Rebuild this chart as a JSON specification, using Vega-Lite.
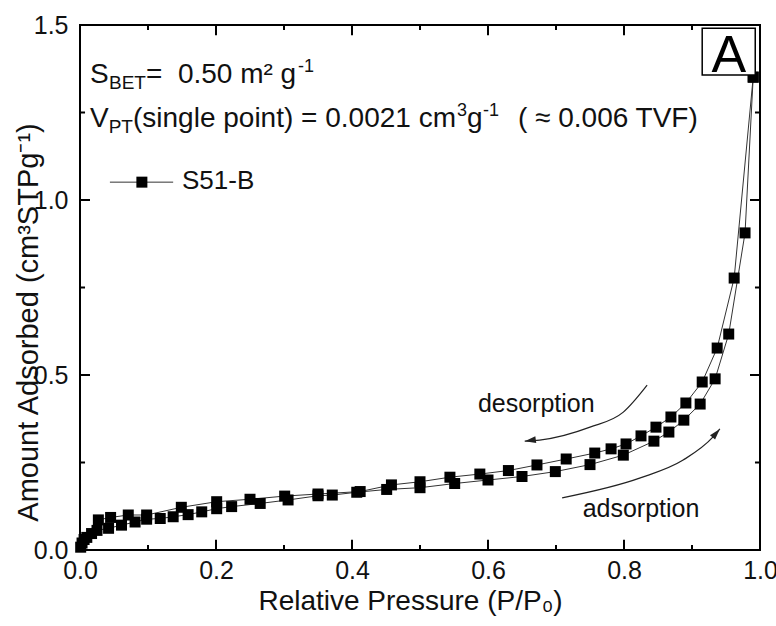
{
  "$schema": "https://vega.github.io/schema/vega-lite/v6.json",
  "width": 680,
  "height": 525,
  "autosize": {"type": "none"},
  "padding": {"left": 80, "top": 25, "right": 16, "bottom": 76},
  "background": "white",
  "config": {"view": {"stroke": "black", "strokeWidth": 2}, "font": "Liberation Sans"},
  "datasets": {
    "iso": [
      {"branch": "ads", "p": 0.001, "q": 0.008},
      {"branch": "ads", "p": 0.003, "q": 0.02},
      {"branch": "ads", "p": 0.006, "q": 0.03},
      {"branch": "ads", "p": 0.010, "q": 0.036},
      {"branch": "ads", "p": 0.017, "q": 0.047},
      {"branch": "ads", "p": 0.025, "q": 0.056},
      {"branch": "ads", "p": 0.042, "q": 0.062},
      {"branch": "ads", "p": 0.061, "q": 0.071},
      {"branch": "ads", "p": 0.081, "q": 0.08},
      {"branch": "ads", "p": 0.098, "q": 0.088},
      {"branch": "ads", "p": 0.118, "q": 0.09},
      {"branch": "ads", "p": 0.137, "q": 0.095},
      {"branch": "ads", "p": 0.159, "q": 0.101},
      {"branch": "ads", "p": 0.179, "q": 0.109},
      {"branch": "ads", "p": 0.201, "q": 0.118},
      {"branch": "ads", "p": 0.223, "q": 0.124},
      {"branch": "ads", "p": 0.265, "q": 0.133},
      {"branch": "ads", "p": 0.306, "q": 0.143},
      {"branch": "ads", "p": 0.35, "q": 0.155},
      {"branch": "ads", "p": 0.371, "q": 0.157},
      {"branch": "ads", "p": 0.407, "q": 0.165},
      {"branch": "ads", "p": 0.451, "q": 0.173},
      {"branch": "ads", "p": 0.5, "q": 0.178},
      {"branch": "ads", "p": 0.551, "q": 0.19},
      {"branch": "ads", "p": 0.6, "q": 0.2},
      {"branch": "ads", "p": 0.65, "q": 0.21},
      {"branch": "ads", "p": 0.699, "q": 0.224},
      {"branch": "ads", "p": 0.75, "q": 0.244},
      {"branch": "ads", "p": 0.799, "q": 0.271},
      {"branch": "ads", "p": 0.844, "q": 0.311},
      {"branch": "ads", "p": 0.866, "q": 0.337},
      {"branch": "ads", "p": 0.888, "q": 0.371},
      {"branch": "ads", "p": 0.912, "q": 0.417},
      {"branch": "ads", "p": 0.934, "q": 0.489},
      {"branch": "ads", "p": 0.954, "q": 0.617},
      {"branch": "ads", "p": 0.978, "q": 0.906},
      {"branch": "ads", "p": 0.99, "q": 1.351},
      {"branch": "des", "p": 0.99, "q": 1.351},
      {"branch": "des", "p": 0.962, "q": 0.777},
      {"branch": "des", "p": 0.937, "q": 0.577},
      {"branch": "des", "p": 0.915, "q": 0.48},
      {"branch": "des", "p": 0.891, "q": 0.42},
      {"branch": "des", "p": 0.869, "q": 0.38},
      {"branch": "des", "p": 0.847, "q": 0.351},
      {"branch": "des", "p": 0.825, "q": 0.326},
      {"branch": "des", "p": 0.803, "q": 0.303},
      {"branch": "des", "p": 0.781, "q": 0.289},
      {"branch": "des", "p": 0.757, "q": 0.277},
      {"branch": "des", "p": 0.715, "q": 0.26},
      {"branch": "des", "p": 0.672, "q": 0.243},
      {"branch": "des", "p": 0.63, "q": 0.227},
      {"branch": "des", "p": 0.588, "q": 0.217},
      {"branch": "des", "p": 0.544, "q": 0.208},
      {"branch": "des", "p": 0.5, "q": 0.195},
      {"branch": "des", "p": 0.458, "q": 0.186},
      {"branch": "des", "p": 0.412, "q": 0.167},
      {"branch": "des", "p": 0.35, "q": 0.16},
      {"branch": "des", "p": 0.301, "q": 0.154},
      {"branch": "des", "p": 0.25, "q": 0.145},
      {"branch": "des", "p": 0.201, "q": 0.138},
      {"branch": "des", "p": 0.149, "q": 0.122},
      {"branch": "des", "p": 0.098, "q": 0.1},
      {"branch": "des", "p": 0.071, "q": 0.1},
      {"branch": "des", "p": 0.045, "q": 0.093},
      {"branch": "des", "p": 0.027, "q": 0.086}
    ],
    "curves": [
      {"curve": "des", "p": 0.654, "q": 0.311},
      {"curve": "des", "p": 0.676, "q": 0.314},
      {"curve": "des", "p": 0.75, "q": 0.351},
      {"curve": "des", "p": 0.799, "q": 0.394},
      {"curve": "des", "p": 0.834, "q": 0.471},
      {"curve": "ads", "p": 0.709, "q": 0.149},
      {"curve": "ads", "p": 0.824, "q": 0.206},
      {"curve": "ads", "p": 0.887, "q": 0.257},
      {"curve": "ads", "p": 0.931, "q": 0.323},
      {"curve": "ads", "p": 0.941, "q": 0.346}
    ],
    "xMajor": [{"p": 0.2}, {"p": 0.4}, {"p": 0.6}, {"p": 0.8}],
    "xMinor": [{"p": 0.1}, {"p": 0.3}, {"p": 0.5}, {"p": 0.7}, {"p": 0.9}],
    "yMajor": [{"q": 0.5}, {"q": 1.0}],
    "yMinor": [{"q": 0.25}, {"q": 0.75}, {"q": 1.25}]
  },
  "layer": [
    {
      "data": {"name": "iso"},
      "mark": {"type": "line", "color": "#333333", "strokeWidth": 1},
      "encoding": {
        "x": {
          "field": "p", "type": "quantitative",
          "scale": {"domain": [0, 1], "nice": false, "zero": false},
          "axis": {
            "orient": "bottom",
            "values": [0, 0.2, 0.4, 0.6, 0.8, 1.0],
            "format": ".1f",
            "labelFontSize": 25, "labelColor": "#111", "labelPadding": 8,
            "labelFlush": false, "labelOverlap": false,
            "ticks": false, "domain": false, "grid": false,
            "title": "Relative Pressure (P/P₀)",
            "titleFontSize": 28, "titleFontWeight": "normal", "titleColor": "#111",
            "titleX": 330, "titleY": 51, "titleBaseline": "middle", "titleAnchor": "middle"
          }
        },
        "y": {
          "field": "q", "type": "quantitative",
          "scale": {"domain": [0, 1.5], "nice": false, "zero": false},
          "axis": {
            "orient": "left",
            "values": [0, 0.5, 1.0, 1.5],
            "format": ".1f",
            "labelFontSize": 25, "labelColor": "#111", "labelPadding": 12,
            "labelFlush": false, "labelOverlap": false,
            "ticks": false, "domain": false, "grid": false,
            "title": "Amount Adsorbed (cm³STPg⁻¹)",
            "titleFontSize": 29, "titleFontWeight": "normal", "titleColor": "#111",
            "titleX": -52, "titleY": 297, "titleAngle": -90, "titleBaseline": "middle", "titleAlign": "center"
          }
        },
        "detail": {"field": "branch"}
      }
    },
    {
      "data": {"name": "xMajor"},
      "mark": {"type": "rule", "color": "black", "strokeWidth": 2},
      "encoding": {"x": {"field": "p", "type": "quantitative"}, "y": {"datum": 0}, "y2": {"datum": 0.029}}
    },
    {
      "data": {"name": "xMajor"},
      "mark": {"type": "rule", "color": "black", "strokeWidth": 2},
      "encoding": {"x": {"field": "p", "type": "quantitative"}, "y": {"datum": 1.5}, "y2": {"datum": 1.471}}
    },
    {
      "data": {"name": "xMinor"},
      "mark": {"type": "rule", "color": "black", "strokeWidth": 2},
      "encoding": {"x": {"field": "p", "type": "quantitative"}, "y": {"datum": 0}, "y2": {"datum": 0.0145}}
    },
    {
      "data": {"name": "xMinor"},
      "mark": {"type": "rule", "color": "black", "strokeWidth": 2},
      "encoding": {"x": {"field": "p", "type": "quantitative"}, "y": {"datum": 1.5}, "y2": {"datum": 1.4855}}
    },
    {
      "data": {"name": "yMajor"},
      "mark": {"type": "rule", "color": "black", "strokeWidth": 2},
      "encoding": {"y": {"field": "q", "type": "quantitative"}, "x": {"datum": 0}, "x2": {"datum": 0.0147}}
    },
    {
      "data": {"name": "yMajor"},
      "mark": {"type": "rule", "color": "black", "strokeWidth": 2},
      "encoding": {"y": {"field": "q", "type": "quantitative"}, "x": {"datum": 1}, "x2": {"datum": 0.9853}}
    },
    {
      "data": {"name": "yMinor"},
      "mark": {"type": "rule", "color": "black", "strokeWidth": 2},
      "encoding": {"y": {"field": "q", "type": "quantitative"}, "x": {"datum": 0}, "x2": {"datum": 0.0074}}
    },
    {
      "data": {"name": "yMinor"},
      "mark": {"type": "rule", "color": "black", "strokeWidth": 2},
      "encoding": {"y": {"field": "q", "type": "quantitative"}, "x": {"datum": 1}, "x2": {"datum": 0.9926}}
    },
    {
      "data": {"name": "iso"},
      "mark": {"type": "point", "shape": "square", "filled": true, "color": "black", "size": 121, "opacity": 1},
      "encoding": {
        "x": {"field": "p", "type": "quantitative"},
        "y": {"field": "q", "type": "quantitative"}
      }
    },
    {
      "data": {"name": "curves"},
      "mark": {"type": "line", "interpolate": "monotone", "color": "#222222", "strokeWidth": 1.2},
      "encoding": {
        "x": {"field": "p", "type": "quantitative"},
        "y": {"field": "q", "type": "quantitative"},
        "detail": {"field": "curve"}
      }
    },
    {
      "data": {"values": [{"p": 0.654, "q": 0.311}]},
      "mark": {"type": "point", "shape": "M0,0L-0.3,1L0.3,1Z", "filled": true, "color": "#222222", "size": 500, "angle": 262, "opacity": 1},
      "encoding": {"x": {"field": "p", "type": "quantitative"}, "y": {"field": "q", "type": "quantitative"}}
    },
    {
      "data": {"values": [{"p": 0.941, "q": 0.346}]},
      "mark": {"type": "point", "shape": "M0,0L-0.3,1L0.3,1Z", "filled": true, "color": "#222222", "size": 500, "angle": 41, "opacity": 1},
      "encoding": {"x": {"field": "p", "type": "quantitative"}, "y": {"field": "q", "type": "quantitative"}}
    },
    {
      "data": {"values": [{"p1": 0.915, "p2": 0.993, "q1": 1.357, "q2": 1.491}]},
      "mark": {"type": "rect", "fill": "white", "stroke": "black", "strokeWidth": 1.5},
      "encoding": {
        "x": {"field": "p1", "type": "quantitative"},
        "x2": {"field": "p2"},
        "y": {"field": "q1", "type": "quantitative"},
        "y2": {"field": "q2"}
      }
    },
    {
      "data": {"values": [{"p": 0.954, "q": 1.366, "t": "A"}]},
      "mark": {"type": "text", "fontSize": 52, "align": "center", "baseline": "alphabetic", "color": "black"},
      "encoding": {"x": {"field": "p", "type": "quantitative"}, "y": {"field": "q", "type": "quantitative"}, "text": {"field": "t"}}
    },
    {
      "data": {"values": [{"p": 0.0147, "q": 1.334, "t": "S"}]},
      "mark": {"type": "text", "fontSize": 28, "align": "left", "baseline": "alphabetic", "color": "#111"},
      "encoding": {"x": {"field": "p", "type": "quantitative"}, "y": {"field": "q", "type": "quantitative"}, "text": {"field": "t"}}
    },
    {
      "data": {"values": [{"p": 0.0147, "q": 1.334, "t": "BET"}]},
      "mark": {"type": "text", "fontSize": 19, "align": "left", "baseline": "alphabetic", "color": "#111", "dx": 19, "dy": 6},
      "encoding": {"x": {"field": "p", "type": "quantitative"}, "y": {"field": "q", "type": "quantitative"}, "text": {"field": "t"}}
    },
    {
      "data": {"values": [{"p": 0.0147, "q": 1.334, "t": "= \u00a00.50 m² g"}]},
      "mark": {"type": "text", "fontSize": 28, "align": "left", "baseline": "alphabetic", "color": "#111", "dx": 56},
      "encoding": {"x": {"field": "p", "type": "quantitative"}, "y": {"field": "q", "type": "quantitative"}, "text": {"field": "t"}}
    },
    {
      "data": {"values": [{"p": 0.0147, "q": 1.334, "t": "-1"}]},
      "mark": {"type": "text", "fontSize": 18, "align": "left", "baseline": "alphabetic", "color": "#111", "dx": 208, "dy": -11},
      "encoding": {"x": {"field": "p", "type": "quantitative"}, "y": {"field": "q", "type": "quantitative"}, "text": {"field": "t"}}
    },
    {
      "data": {"values": [{"p": 0.0147, "q": 1.2086, "t": "V"}]},
      "mark": {"type": "text", "fontSize": 28, "align": "left", "baseline": "alphabetic", "color": "#111"},
      "encoding": {"x": {"field": "p", "type": "quantitative"}, "y": {"field": "q", "type": "quantitative"}, "text": {"field": "t"}}
    },
    {
      "data": {"values": [{"p": 0.0147, "q": 1.2086, "t": "PT"}]},
      "mark": {"type": "text", "fontSize": 19, "align": "left", "baseline": "alphabetic", "color": "#111", "dx": 18.7, "dy": 6},
      "encoding": {"x": {"field": "p", "type": "quantitative"}, "y": {"field": "q", "type": "quantitative"}, "text": {"field": "t"}}
    },
    {
      "data": {"values": [{"p": 0.0147, "q": 1.2086, "t": "(single point) = 0.0021 cm"}]},
      "mark": {"type": "text", "fontSize": 28, "align": "left", "baseline": "alphabetic", "color": "#111", "dx": 43},
      "encoding": {"x": {"field": "p", "type": "quantitative"}, "y": {"field": "q", "type": "quantitative"}, "text": {"field": "t"}}
    },
    {
      "data": {"values": [{"p": 0.0147, "q": 1.2086, "t": "3"}]},
      "mark": {"type": "text", "fontSize": 18, "align": "left", "baseline": "alphabetic", "color": "#111", "dx": 367, "dy": -11},
      "encoding": {"x": {"field": "p", "type": "quantitative"}, "y": {"field": "q", "type": "quantitative"}, "text": {"field": "t"}}
    },
    {
      "data": {"values": [{"p": 0.0147, "q": 1.2086, "t": "g"}]},
      "mark": {"type": "text", "fontSize": 28, "align": "left", "baseline": "alphabetic", "color": "#111", "dx": 377},
      "encoding": {"x": {"field": "p", "type": "quantitative"}, "y": {"field": "q", "type": "quantitative"}, "text": {"field": "t"}}
    },
    {
      "data": {"values": [{"p": 0.0147, "q": 1.2086, "t": "-1"}]},
      "mark": {"type": "text", "fontSize": 18, "align": "left", "baseline": "alphabetic", "color": "#111", "dx": 393, "dy": -11},
      "encoding": {"x": {"field": "p", "type": "quantitative"}, "y": {"field": "q", "type": "quantitative"}, "text": {"field": "t"}}
    },
    {
      "data": {"values": [{"p": 0.0147, "q": 1.2086, "t": "( ≈ 0.006 TVF)"}]},
      "mark": {"type": "text", "fontSize": 28, "align": "left", "baseline": "alphabetic", "color": "#111", "dx": 428},
      "encoding": {"x": {"field": "p", "type": "quantitative"}, "y": {"field": "q", "type": "quantitative"}, "text": {"field": "t"}}
    },
    {
      "data": {"values": [{"p": 0.044, "q": 1.051}, {"p": 0.137, "q": 1.051}]},
      "mark": {"type": "line", "color": "#333333", "strokeWidth": 1},
      "encoding": {"x": {"field": "p", "type": "quantitative"}, "y": {"field": "q", "type": "quantitative"}}
    },
    {
      "data": {"values": [{"p": 0.091, "q": 1.051}]},
      "mark": {"type": "point", "shape": "square", "filled": true, "color": "black", "size": 121, "opacity": 1},
      "encoding": {"x": {"field": "p", "type": "quantitative"}, "y": {"field": "q", "type": "quantitative"}}
    },
    {
      "data": {"values": [{"p": 0.15, "q": 1.031, "t": "S51-B"}]},
      "mark": {"type": "text", "fontSize": 26, "align": "left", "baseline": "alphabetic", "color": "#111"},
      "encoding": {"x": {"field": "p", "type": "quantitative"}, "y": {"field": "q", "type": "quantitative"}, "text": {"field": "t"}}
    },
    {
      "data": {"values": [{"p": 0.671, "q": 0.394, "t": "desorption"}, {"p": 0.825, "q": 0.094, "t": "adsorption"}]},
      "mark": {"type": "text", "fontSize": 25, "align": "center", "baseline": "alphabetic", "color": "#111"},
      "encoding": {"x": {"field": "p", "type": "quantitative"}, "y": {"field": "q", "type": "quantitative"}, "text": {"field": "t"}}
    }
  ]
}
